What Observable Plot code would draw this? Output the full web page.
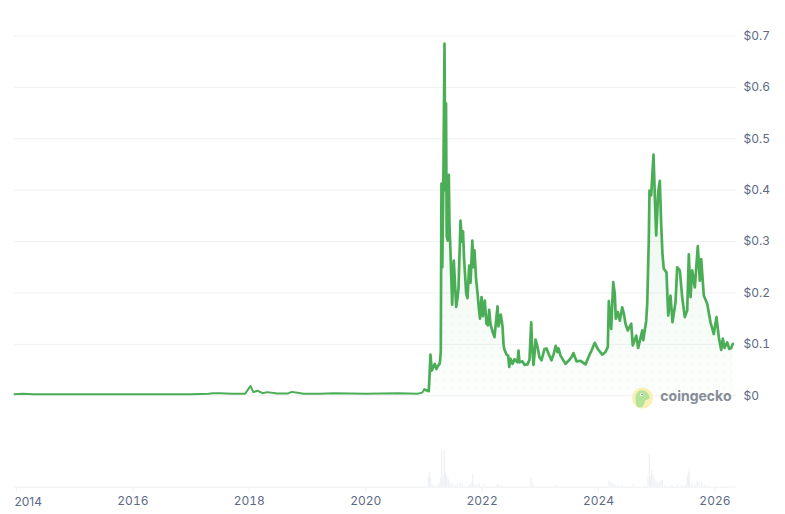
<!DOCTYPE html>
<html>
<head>
<meta charset="utf-8">
<script src="https://cdn.jsdelivr.net/npm/d3@7"></script>
<script src="https://cdn.jsdelivr.net/npm/@observablehq/plot@0.6"></script>
<style>
html,body{margin:0;padding:0;background:#fff;}
svg{display:block;}
</style>
</head>
<body>
<div id="chart"></div>
<script>
const priceYears = [2013.966,2014.1,2014.3,2015,2016,2017,2017.3,2017.38,2017.5,2017.7,2017.93,2018.02,2018.07,2018.14,2018.23,2018.31,2018.48,2018.66,2018.73,2018.83,2018.93,2019.22,2019.45,2020,2020.55,2020.89,2020.97,2021.01,
2021.075,2021.084,2021.101,2021.113,2021.136,2021.187,2021.216,2021.242,2021.273,2021.29,2021.302,2021.316,2021.337,2021.354,2021.368,2021.38,2021.392,2021.411,2021.428,2021.44,2021.454,2021.486,2021.514,2021.555,2021.577,2021.595,2021.629,2021.655,2021.672,2021.689,2021.727,2021.749,2021.778,2021.801,2021.832,2021.852,2021.869,2021.895,2021.921,2021.943,2021.964,2021.99,
2022.015,2022.046,2022.076,2022.101,2022.122,2022.144,2022.179,2022.213,2022.265,2022.282,2022.321,2022.351,2022.368,2022.38,2022.419,2022.448,2022.466,2022.488,2022.522,2022.557,2022.608,2022.625,2022.643,2022.694,2022.729,2022.78,2022.814,2022.844,2022.857,2022.883,2022.9,2022.918,2022.952,2022.986,
2023.021,2023.072,2023.107,2023.141,2023.192,2023.227,2023.265,2023.296,2023.313,2023.347,2023.433,2023.485,2023.536,2023.57,2023.622,2023.691,2023.777,2023.828,2023.88,2023.936,2023.988,
2024.064,2024.12,2024.16,2024.177,2024.218,2024.253,2024.28,2024.297,2024.332,2024.366,2024.407,2024.435,2024.464,2024.503,2024.562,2024.589,2024.648,2024.682,2024.751,2024.768,2024.82,2024.837,2024.864,2024.876,2024.905,2024.945,2024.974,2024.991,
2025.026,2025.053,2025.077,2025.1,2025.122,2025.168,2025.198,2025.237,2025.271,2025.323,2025.352,2025.397,2025.438,2025.483,2025.524,2025.552,2025.581,2025.61,2025.655,2025.706,2025.741,2025.765,2025.809,2025.868,2025.924,2025.981,
2026.027,2026.067,2026.108,2026.136,2026.165,2026.211,2026.246,2026.28,2026.308];

const prices = [.003,.004,.003,.003,.003,.003,.004,.005,.005,.004,.004,.019,.007,.0097,.005,.007,.0045,.0042,.0075,.006,.004,.004,.005,.004,.005,.004,.006,.012,
.009,.009,.049,.08,.049,.062,.052,.058,.063,.085,.413,.25,.45,.685,.40,.569,.31,.302,.43,.328,.29,.177,.263,.173,.19,.21,.341,.30,.32,.27,.199,.19,.253,.22,.302,.25,.283,.23,.2,.172,.15,.192,
.155,.185,.14,.137,.167,.14,.125,.114,.174,.135,.158,.135,.10,.091,.08,.078,.056,.072,.062,.071,.065,.088,.065,.067,.06,.061,.07,.143,.10,.06,.08,.109,.095,.075,
.069,.091,.092,.082,.069,.08,.097,.085,.092,.078,.062,.068,.075,.083,.067,.068,.061,.075,.088,.103,.091,
.08,.085,.095,.184,.13,.221,.198,.15,.163,.146,.172,.16,.14,.127,.14,.098,.117,.093,.127,.108,.146,.179,.302,.399,.39,.469,.367,.312,
.397,.418,.334,.273,.247,.24,.156,.195,.143,.182,.25,.244,.192,.153,.166,.275,.192,.244,.211,.291,.224,.266,.195,.179,.143,.12,
.153,.114,.089,.111,.093,.104,.091,.093,.101];

const volumeYears = [2021.01,2021.085,2021.102,2021.125,2021.153,2021.199,2021.257,2021.285,2021.302,2021.314,2021.337,2021.36,2021.377,2021.4,2021.428,2021.457,2021.491,2021.543,2021.583,2021.629,2021.669,2021.715,2021.789,2021.818,2021.847,2021.87,2021.915,2021.961,2022.001,2022.047,2022.27,2022.305,2022.345,2022.843,2022.866,2022.9,2023.1,2023.272,2023.312,2023.89,2023.947,2024.19,2024.218,2024.253,2024.293,2024.35,2024.407,2024.608,2024.825,2024.859,2024.882,2024.905,2024.922,2024.945,2024.968,2024.996,2025.025,2025.054,2025.083,2025.105,2025.151,2025.266,2025.369,2025.437,2025.512,2025.535,2025.552,2025.569,2025.609,2025.667,2025.707,2025.735,2025.781,2025.839,2025.896,2026.022,2026.125,2026.24,2026.314];
const volumes = [3,30,43,28,8,5,6,13,28,111,33,108,43,33,23,13,10,5,8,13,8,3,8,13,40,8,5,10,3,10,8,5,6,26,13,5,3,6,4,3,3,18,13,11,8,5,3,8,3,28,98,33,50,38,23,18,11,13,18,20,5,5,8,5,6,33,48,43,10,8,18,10,13,6,5,3,3,3,3];

const yTicks = [0,.1,.2,.3,.4,.5,.6,.7];
const xTicks = [2014,2016,2018,2020,2022,2024,2026];
const volumeBase = -0.178;
const volumeUnit = 1/1542;
const barHalf = 0.011;
const dotCap = 0.17;
const splitYear = 2021.01;
const lineColor = "#4bae57", gridColor = "#eff1f4", textColor = "#5d6a85", volColor = "#eff1f5";
const font = "Inter, sans-serif";

const plot = Plot.plot({
  width: 785, height: 514,
  marginLeft: 14, marginRight: 49, marginTop: 35.5, marginBottom: 27.3,
  style: {fontFamily: font, fontSize: "12px", color: textColor, background: "#fff", overflow: "visible"},
  x: {domain: [2013.966, 2026.371], label: null},
  y: {domain: [volumeBase, .7], label: null},
  marks: [
    Plot.ruleY(yTicks, {stroke: gridColor, strokeWidth: 1}),
    Plot.ruleY([volumeBase], {stroke: gridColor, strokeWidth: 1}),
    Plot.areaY(prices, {x: priceYears, y1: 0, y2: prices, fill: "url(#priceFill)", curve: "linear"}),
    Plot.areaY(prices, {x: priceYears, y1: 0, y2: d => Math.min(d, dotCap), fill: "url(#priceDots)"}),
    Plot.rect(volumes, {x1: volumeYears.map(d => d - barHalf), x2: volumeYears.map(d => d + barHalf), y1: volumeBase, y2: d => volumeBase + d * volumeUnit, fill: volColor}),
    Plot.line(prices, {x: priceYears, y: prices, filter: (d, i) => priceYears[i] <= splitYear, stroke: lineColor, strokeWidth: 2, strokeLinejoin: "round"}),
    Plot.line(prices, {x: priceYears, y: prices, filter: (d, i) => priceYears[i] >= splitYear, stroke: lineColor, strokeWidth: 2.7, strokeLinejoin: "round"}),
    Plot.axisY({anchor: "right", ticks: yTicks, tickSize: 0, tickPadding: 7, textAnchor: "start", tickFormat: d => "$" + d, label: null, fontSize: 12, fill: textColor}),
    Plot.axisX({ticks: xTicks, tickSize: 5, tickPadding: 4, tickFormat: d => d === 2014 ? "" : String(d), label: null, stroke: gridColor, fontSize: 12, fill: textColor}),
    Plot.text([2014], {x: d => d, frameAnchor: "bottom", dy: 18.5, dx: -2, text: d => String(d), textAnchor: "start", fill: textColor, fontSize: 12})
  ]
});

const svg = d3.select(plot);
const defs = svg.insert("defs", ":first-child");
const grad = defs.append("linearGradient").attr("id", "priceFill").attr("x1", 0).attr("x2", 0).attr("y1", 0).attr("y2", 1);
grad.append("stop").attr("offset", "0").attr("stop-color", lineColor).attr("stop-opacity", .16);
grad.append("stop").attr("offset", "1").attr("stop-color", lineColor).attr("stop-opacity", .015);
const pat = defs.append("pattern").attr("id", "priceDots").attr("patternUnits", "userSpaceOnUse").attr("width", 8).attr("height", 8);
pat.append("circle").attr("cx", 4).attr("cy", 4).attr("r", 1.3).attr("fill", lineColor).attr("fill-opacity", .045);

const logo = svg.append("g").attr("transform", "translate(642.5,398)");
logo.append("circle").attr("r", 10.5).attr("fill", "#f9f1b4");
logo.append("path").attr("d", "M-5.5,8.5 C-8,2 -8,-6 -2,-7.5 C3,-8.5 5,-5 7,-2 C8,0 6,2 3,2 C2,5 1,8 -1,9.5 C-3,9.8 -4.5,9.5 -5.5,8.5 Z").attr("fill", "#b5e39a");
logo.append("circle").attr("cx", -1).attr("cy", -3.5).attr("r", 1.5).attr("fill", "#fff");
logo.append("circle").attr("cx", -.6).attr("cy", -3.5).attr("r", .8).attr("fill", "#6b7a6a");
svg.append("text").attr("x", 731.5).attr("y", 401).attr("text-anchor", "end")
  .attr("font-family", font).attr("font-weight", 700).attr("font-size", 14).attr("fill", "#868c97").text("coingecko");

document.getElementById("chart").append(plot);
</script>
</body>
</html>
